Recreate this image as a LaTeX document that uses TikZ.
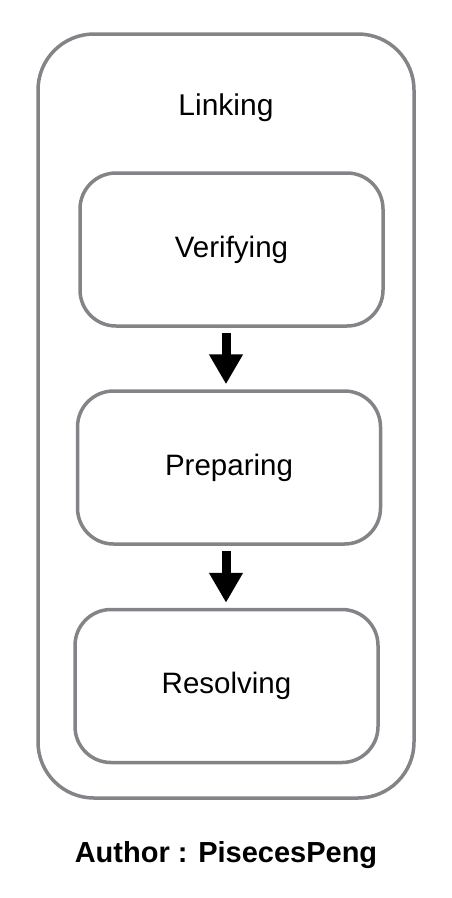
\documentclass[tikz,border=0pt]{standalone}
\usepackage{fontspec}
\setmainfont{Liberation Sans}
\usetikzlibrary{arrows.meta}
\usetikzlibrary{positioning}

\definecolor{boxgray}{RGB}{132,132,136}

\tikzset{
	stage/.style={draw=boxgray, line width=3.5pt, rounded corners=36pt,
		minimum width=303pt, minimum height=153pt, font=\fontsize{29.5}{34}\selectfont},
	flow/.style={line width=9pt, -{Triangle[width=32pt,length=30pt]}, shorten <=5pt, shorten >=5pt},
}

\begin{document}
\begin{tikzpicture}[x=1pt, y=-1pt]
		\useasboundingbox (0, 0) rectangle (452, 898);
		
		\node[draw=boxgray, line width=3.5pt, rounded corners=56pt,
			minimum width=376pt, minimum height=764pt] (linkbox) at (226, 416) {};
		\node[font=\fontsize{30}{34}\selectfont] (linking) at (226, 108) {Linking};
		
		\node[stage] (verify) at (231.5, 249.5) {Verifying};
		\node[stage] (prepare) at (229, 467.5) {Preparing};
		\node[stage] (resolve) at (226.5, 686) {Resolving};
		
		\draw[flow] (verify.south -| linkbox) -- (prepare.north -| linkbox);
		\draw[flow] (prepare.south -| linkbox) -- (resolve.north -| linkbox);
		
		\node[font=\bfseries\fontsize{29}{34}\selectfont] (author) at (226, 855) {Author : PisecesPeng};
		
	\end{tikzpicture}
\end{document}
